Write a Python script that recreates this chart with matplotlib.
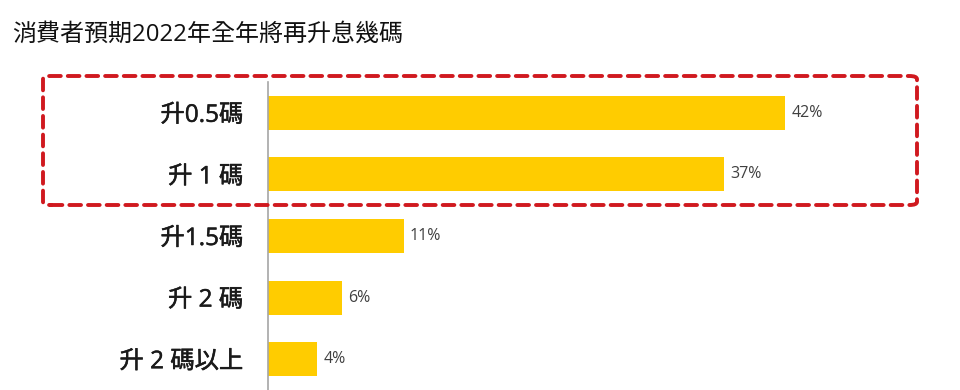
import matplotlib.pyplot as plt
import matplotlib.patheffects as pe
from matplotlib.patches import FancyBboxPatch

fonts = ['Open Sans', 'Noto Sans CJK TC', 'DejaVu Sans']
plt.rcParams['font.family'] = fonts

title = '消費者預期2022年全年將再升息幾碼'
labels = ['升0.5碼', '升 1 碼', '升1.5碼', '升 2 碼', '升 2 碼以上']
values = [42, 37, 11, 6, 4]

fig = plt.figure(figsize=(9.6, 3.9), dpi=100)
ax = fig.add_axes([268 / 960, 0, 616 / 960, 308 / 390])

y = list(range(len(values)))
ax.barh(y, values, height=0.55, color='#FFCC00')
ax.set_ylim(len(values) - 0.5, -0.5)
ax.set_xlim(0, 50)

for yi, v in zip(y, values):
    ax.text(v + 0.5, yi, f'{v}%', va='center', ha='left', fontsize=11.5, color='#404040')

ax.set_yticks(y)
ax.set_yticklabels(labels, fontsize=17.5, color='#1a1a1a')
for t in ax.get_yticklabels():
    t.set_path_effects([pe.withStroke(linewidth=0.35, foreground='#1a1a1a')])
ax.tick_params(axis='y', length=0, pad=18)
ax.set_xticks([])
for side in ['top', 'right', 'bottom']:
    ax.spines[side].set_visible(False)
ax.spines['left'].set_color('#A6A6A6')
ax.spines['left'].set_linewidth(1.2)

fig.text(12 / 960, 1 - 35 / 390, title, fontsize=17.3, va='center', ha='left', color='#111111')

# dashed highlight box around the top two rows
box = FancyBboxPatch((43 / 960, 1 - 205 / 390), (917 - 43) / 960, (205 - 76) / 390,
                     boxstyle='round,pad=0,rounding_size=0.008', transform=fig.transFigure,
                     fill=False, edgecolor='#D0191F', linewidth=2.8,
                     linestyle=(0, (3, 1.8)), capstyle='round', joinstyle='round')
fig.patches.append(box)

fig.savefig('out.png', dpi=100)
